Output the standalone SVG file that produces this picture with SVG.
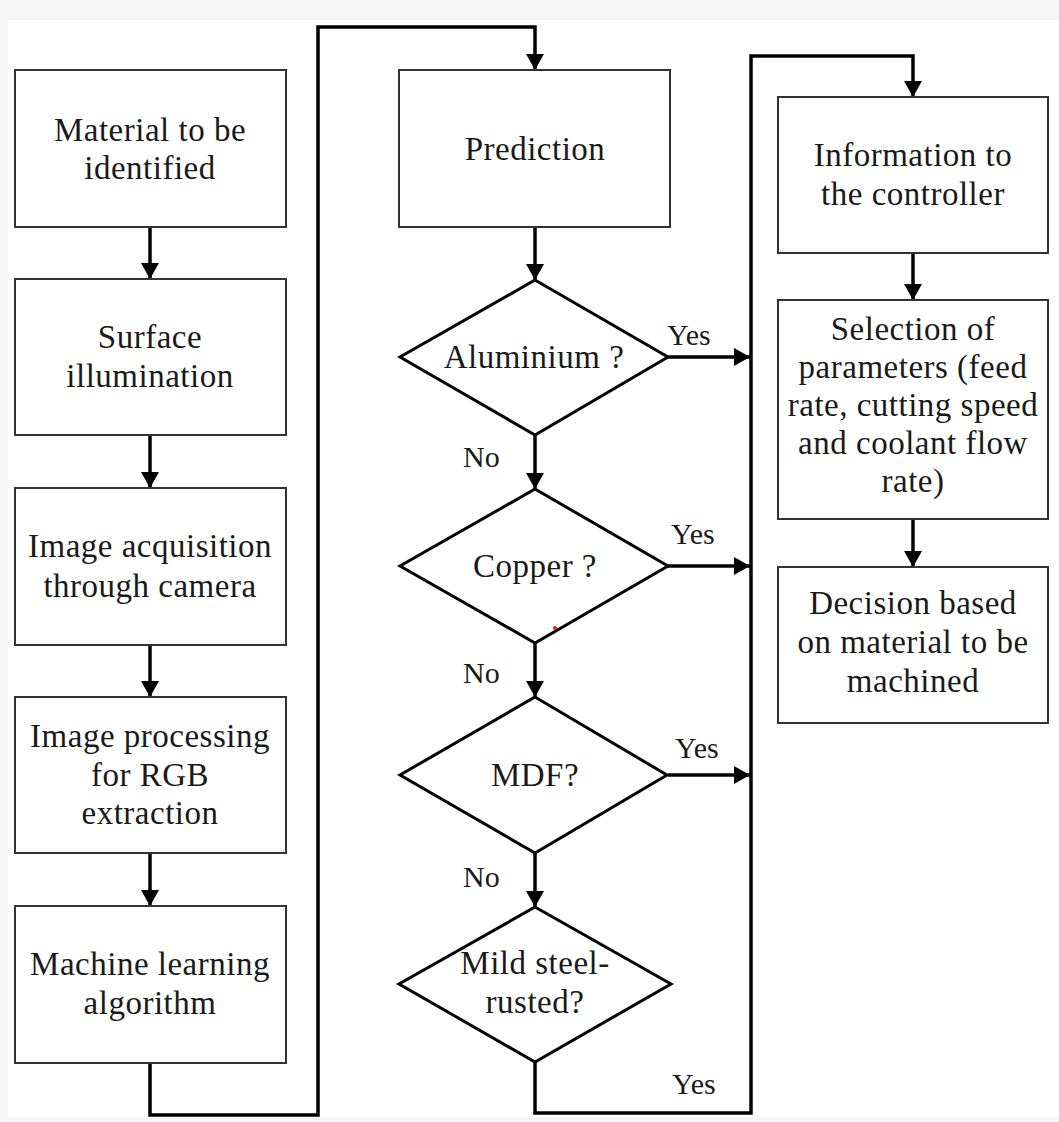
<svg xmlns="http://www.w3.org/2000/svg" width="1059" height="1122" viewBox="0 0 1059 1122">
<defs>
<style>
.box{fill:#fff;stroke:#333;stroke-width:2}
.dia{fill:#fff;stroke:#000;stroke-width:3}
.t{font-family:"Liberation Serif","Times New Roman",serif;font-size:33px;letter-spacing:0.5px;fill:#1a1a1a;text-anchor:middle}
.lab{font-family:"Liberation Serif","Times New Roman",serif;font-size:30px;fill:#1a1a1a}
.c{fill:none;stroke:#000;stroke-width:3.5}
</style>
<marker id="ah" viewBox="0 0 16 18" refX="16" refY="9" markerWidth="16" markerHeight="18" markerUnits="userSpaceOnUse" orient="auto">
<path d="M0,0 L16,9 L0,18 Z" fill="#000"/>
</marker>
</defs>
<rect x="0" y="0" width="1059" height="1122" fill="#f6f6f6"/>
<rect x="8" y="20" width="1051" height="1097" fill="#fff"/>

<g id="connectors">
<path class="c" d="M150,227 V279" marker-end="url(#ah)"/>
<path class="c" d="M150,435 V488" marker-end="url(#ah)"/>
<path class="c" d="M150,645 V697" marker-end="url(#ah)"/>
<path class="c" d="M150,853 V906" marker-end="url(#ah)"/>
<path class="c" d="M150,1063 V1115 H318 V27 H535 V70" marker-end="url(#ah)"/>
<path class="c" d="M535,227 V280" marker-end="url(#ah)"/>
<path class="c" d="M535,435 V489" marker-end="url(#ah)"/>
<path class="c" d="M535,643 V697" marker-end="url(#ah)"/>
<path class="c" d="M535,853 V907" marker-end="url(#ah)"/>
<path class="c" d="M668,357 H750" marker-end="url(#ah)"/>
<path class="c" d="M668,566 H750" marker-end="url(#ah)"/>
<path class="c" d="M668,775 H750" marker-end="url(#ah)"/>
<path class="c" d="M535,1062 V1113 H751 V56 H913 V97" marker-end="url(#ah)"/>
<path class="c" d="M913,253 V300" marker-end="url(#ah)"/>
<path class="c" d="M913,519 V567" marker-end="url(#ah)"/>
<text class="lab" x="667" y="345">Yes</text>
<text class="lab" x="671" y="544">Yes</text>
<text class="lab" x="675" y="758">Yes</text>
<text class="lab" x="672" y="1094">Yes</text>
<text class="lab" x="463" y="467">No</text>
<text class="lab" x="463" y="683">No</text>
<text class="lab" x="463" y="887">No</text>
</g>

<g id="n1"><rect class="box" x="15" y="70" width="271" height="157"/>
<text class="t" x="150" y="141">Material to be</text><text class="t" x="150" y="179">identified</text></g>
<g id="n2"><rect class="box" x="15" y="279" width="271" height="156"/>
<text class="t" x="150" y="348">Surface</text><text class="t" x="150" y="387">illumination</text></g>
<g id="n3"><rect class="box" x="15" y="488" width="271" height="157"/>
<text class="t" x="150" y="557">Image acquisition</text><text class="t" x="150" y="597">through camera</text></g>
<g id="n4"><rect class="box" x="15" y="697" width="271" height="156"/>
<text class="t" x="150" y="747">Image processing</text><text class="t" x="150" y="786">for RGB</text><text class="t" x="150" y="824">extraction</text></g>
<g id="n5"><rect class="box" x="15" y="906" width="271" height="157"/>
<text class="t" x="150" y="975">Machine learning</text><text class="t" x="150" y="1014">algorithm</text></g>

<g id="n6"><rect class="box" x="399" y="70" width="271" height="157"/>
<text class="t" x="535" y="160">Prediction</text></g>
<g id="d1"><polygon class="dia" points="535,280 668,357 535,435 400,357"/>
<text class="t" x="534" y="368">Aluminium ?</text></g>
<g id="d2"><polygon class="dia" points="535,489 668,566 535,643 400,566"/>
<text class="t" x="535" y="577">Copper ?</text></g>
<g id="d3"><polygon class="dia" points="535,697 667,775 535,853 400,775"/>
<text class="t" x="535" y="786">MDF?</text></g>
<g id="d4"><polygon class="dia" points="535,907 671,984 535,1062 399,984"/>
<text class="t" x="535" y="974">Mild steel-</text><text class="t" x="535" y="1013">rusted?</text></g>

<g id="n7"><rect class="box" x="778" y="97" width="270" height="156"/>
<text class="t" x="913" y="166">Information to</text><text class="t" x="913" y="205">the controller</text></g>
<g id="n8"><rect class="box" x="778" y="300" width="270" height="219"/>
<text class="t" x="913" y="340">Selection of</text><text class="t" x="913" y="378">parameters (feed</text><text class="t" x="913" y="416">rate, cutting speed</text><text class="t" x="913" y="454">and coolant flow</text><text class="t" x="913" y="492">rate)</text></g>
<g id="n9"><rect class="box" x="778" y="567" width="270" height="156"/>
<text class="t" x="913" y="614">Decision based</text><text class="t" x="913" y="653">on material to be</text><text class="t" x="913" y="692">machined</text></g>
<circle cx="555" cy="628" r="2" fill="#e02020"/>
</svg>
